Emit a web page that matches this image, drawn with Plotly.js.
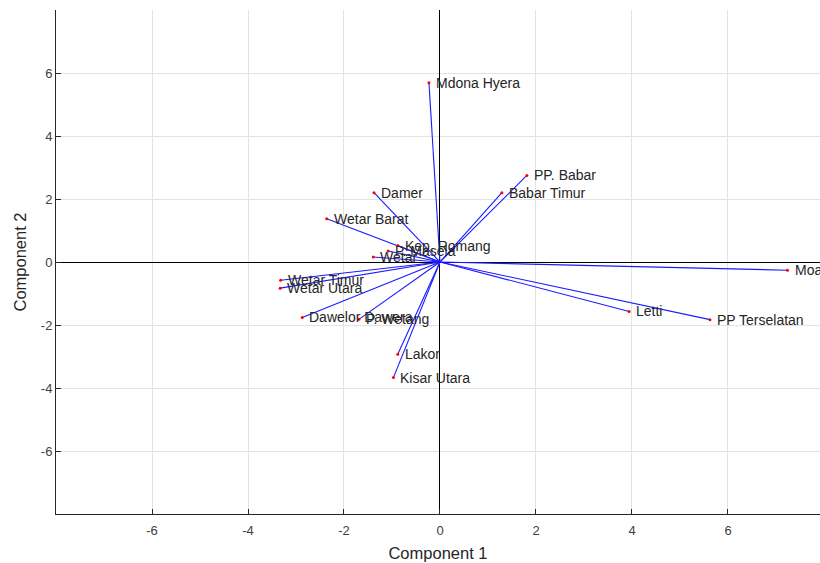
<!DOCTYPE html>
<html>
<head>
<meta charset="utf-8">
<script src="https://cdn.plot.ly/plotly-3.0.1.min.js"></script>
<style>html,body{margin:0;padding:0;background:#fff;}#chart{width:820px;height:563px;}</style>
</head>
<body>
<div id="chart"></div>
<script>
// Variable labels and loadings (Component 1, Component 2)
const labels = ["Mdona Hyera","PP. Babar","Babar Timur","Damer","Wetar Barat","Kep. Romang","P. Masela","Wetar","Wetar Timur","Wetar Utara","Dawelor Dawera","P. Wetang","Lakor","Kisar Utara","Moa","Letti","PP Terselatan"];
const comp1 = [-0.23, 1.81, 1.29, -1.375, -2.36, -0.88, -1.08, -1.39, -3.32, -3.33, -2.87, -1.69, -0.88, -0.97, 7.24, 3.94, 5.625];
const comp2 = [5.69, 2.75, 2.2, 2.2, 1.37, 0.52, 0.35, 0.16, -0.58, -0.83, -1.76, -1.82, -2.93, -3.67, -0.26, -1.57, -1.83];
const xTicks = [-6, -4, -2, 0, 2, 4, 6];
const yTicks = [-6, -4, -2, 0, 2, 4, 6];

const lx = [], ly = [];
comp1.forEach((v, i) => { lx.push(0, v, null); ly.push(0, comp2[i], null); });

const font = "Liberation Sans, Arial, Helvetica, sans-serif";
const traces = [
  {x: lx, y: ly, mode: "lines", type: "scatter", line: {color: "#1a1aff", width: 1.1}, hoverinfo: "skip"},
  {x: comp1, y: comp2, mode: "markers", type: "scatter", marker: {color: "#ff0000", size: 3}, text: labels}
];
const annotations = labels.map((t, i) => ({
  x: comp1[i], y: comp2[i], text: t, showarrow: false, xanchor: "left", yanchor: "middle",
  xshift: 5, font: {family: font, size: 14, color: "#262626"}
}));

const axisCommon = {
  showline: true, linecolor: "#262626", linewidth: 1, mirror: false,
  ticks: "inside", ticklen: 5, tickcolor: "#262626", tickwidth: 1,
  showgrid: true, gridcolor: "#e3e3e3", gridwidth: 1,
  zeroline: true, zerolinecolor: "#000000", zerolinewidth: 1,
  tickfont: {family: font, size: 13, color: "#404040"}
};
const layout = {
  width: 820, height: 563,
  margin: {l: 56, r: 0, t: 10, b: 49},
  paper_bgcolor: "#ffffff", plot_bgcolor: "#ffffff",
  showlegend: false,
  xaxis: Object.assign({}, axisCommon, {range: [-8, 7.917], tickvals: xTicks, ticktext: xTicks.map(String),
    ticklabelstandoff: 4,
    title: {text: "Component 1", font: {family: font, size: 16.5, color: "#262626"}, standoff: 10}}),
  yaxis: Object.assign({}, axisCommon, {range: [-8, 8], tickvals: yTicks, ticktext: yTicks.map(String),
    title: {text: "Component 2", font: {family: font, size: 16.5, color: "#262626"}, standoff: 10}}),
  annotations: annotations
};
Plotly.newPlot("chart", traces, layout, {displayModeBar: false, staticPlot: true});
</script>
</body>
</html>
